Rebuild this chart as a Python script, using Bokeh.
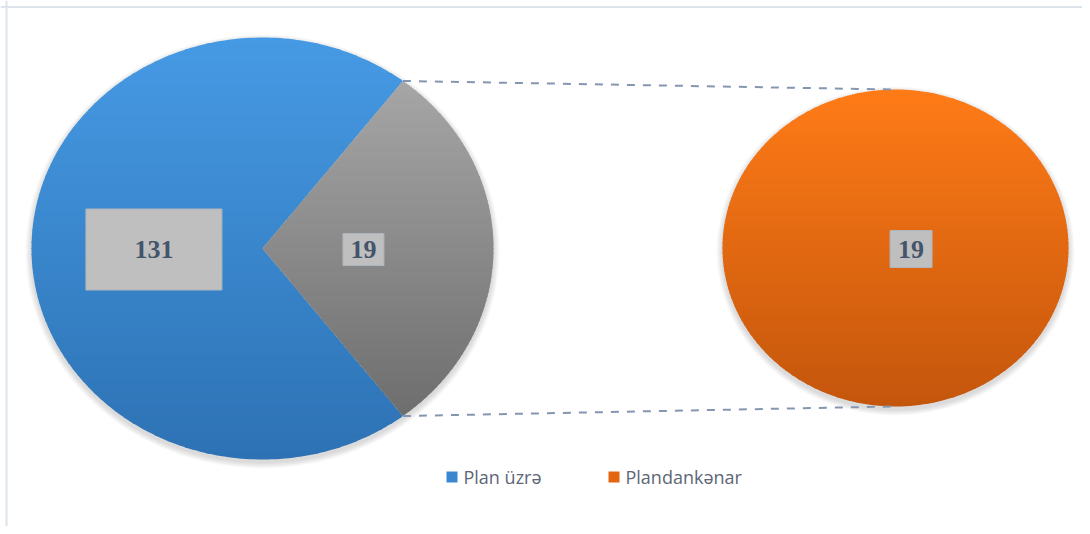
import numpy as np
from bokeh.plotting import figure
from bokeh.models import Range1d, Span
from bokeh.core.properties import value
from bokeh.embed import file_html
from bokeh.resources import INLINE

# ---------------- data ----------------
categories = ["Plan üzrə", "Plandankənar"]
main_values = [131, 19]          # labels shown on the primary pie
secondary_values = [19]          # label shown on the secondary pie
main_share_pct = [70.8, 29.2]    # angular shares of the primary pie as drawn
secondary_share_pct = [100.0]

# ---------------- styles / layout ----------------
W, H = 1082, 526
main_geom = dict(cx=262, cy=248, rx=231, ry=211)
sec_geom = dict(cx=895, cy=247.5, rx=173, ry=158.5)
blue_grad = ("#469ae4", "#2d72b4")
gray_grad = ("#a6a6a6", "#6e6e6e")
orange_grad = ("#ff7b17", "#c4560c")
label_color = "#44546a"
box_fill = "#bfbfbf"
box_line = "#aeb4bc"
main_box_sizes = [(136, 81), (41, 32)]
sec_box_sizes = [(42, 37)]
main_label_frac = [0.47, 0.437]
sec_label_frac = [0.09]
legend_x = [446, 608]
legend_y = 476.5
legend_colors = ["#3a86cf", "#e2650f"]
connector_color = "#8597b0"

p = figure(width=W, height=H, output_backend="svg", toolbar_location=None,
           x_range=Range1d(0, W), y_range=Range1d(H, 0),
           x_axis_type=None, y_axis_type=None, min_border=0,
           background_fill_color="white", border_fill_color="white")
p.outline_line_color = None
p.grid.visible = False

# chart area border (left / top visible)
p.add_layout(Span(location=6, dimension="height", line_color="#dde3ea", line_width=2))
p.add_layout(Span(location=6.5, dimension="width", line_color="#dde3ea", line_width=2))


def hex2rgb(h):
    h = h.lstrip("#")
    return np.array([int(h[i:i + 2], 16) for i in (0, 2, 4)], dtype=float)


def lerp_color(c0, c1, t):
    a, b = hex2rgb(c0), hex2rgb(c1)
    c = a + (b - a) * t
    return "#%02x%02x%02x" % tuple(int(round(v)) for v in c)


def wedge_points(g, a0, a1, full=False, n=240):
    t = np.radians(np.linspace(a0, a1, n))
    xs = g["cx"] + g["rx"] * np.cos(t)
    ys = g["cy"] - g["ry"] * np.sin(t)
    pts = list(zip(xs, ys))
    if not full:
        pts = [(g["cx"], g["cy"])] + pts
    return pts


def clip_half(pts, yc, keep_ge):
    out = []
    n = len(pts)
    for i in range(n):
        cur, prev = pts[i], pts[i - 1]
        cin = cur[1] >= yc if keep_ge else cur[1] <= yc
        pin = prev[1] >= yc if keep_ge else prev[1] <= yc
        if cin != pin:
            t = (yc - prev[1]) / (cur[1] - prev[1])
            out.append((prev[0] + t * (cur[0] - prev[0]), yc))
        if cin:
            out.append(cur)
    return out


def gradient_patch(pts, c_top, c_bot, nb=70):
    ys = [q[1] for q in pts]
    y0, y1 = min(ys), max(ys)
    edges = np.linspace(y0, y1, nb + 1)
    bx, by, bc = [], [], []
    for i in range(nb):
        poly = clip_half(pts, edges[i] - 0.6, True)
        poly = clip_half(poly, edges[i + 1] + 0.6, False) if poly else poly
        if len(poly) < 3:
            continue
        bx.append([q[0] for q in poly])
        by.append([q[1] for q in poly])
        bc.append(lerp_color(c_top, c_bot, (i + 0.5) / nb))
    p.patches(bx, by, fill_color=bc, line_color=None)


# soft shadows
for g in (main_geom, sec_geom):
    for k in range(1, 7):
        p.ellipse(x=[g["cx"]], y=[g["cy"] + 3], width=[2 * (g["rx"] + k)],
                  height=[2 * (g["ry"] + k)], fill_color="black", fill_alpha=0.025,
                  line_color=None)

# ---------------- primary pie ----------------
other_span = main_share_pct[1] / 100 * 360
start_other = -other_span / 2
main_angles = [(start_other + other_span, start_other + 360), (start_other, start_other + other_span)]
main_grads = [blue_grad, gray_grad]
for (a0, a1), gr in zip(main_angles, main_grads):
    gradient_patch(wedge_points(main_geom, a0, a1), gr[0], gr[1])

# ---------------- secondary pie ----------------
sec_angles = []
acc = -180.0
for s in secondary_share_pct:
    sec_angles.append((acc, acc + s / 100 * 360))
    acc += s / 100 * 360
for a0, a1 in sec_angles:
    gradient_patch(wedge_points(sec_geom, a0, a1, full=True), orange_grad[0], orange_grad[1])

# ---------------- connector lines ----------------
ta = np.radians(start_other + other_span)
ba = np.radians(start_other)
g = main_geom
top_pt = (g["cx"] + g["rx"] * np.cos(ta), g["cy"] - g["ry"] * np.sin(ta))
bot_pt = (g["cx"] + g["rx"] * np.cos(ba), g["cy"] - g["ry"] * np.sin(ba))
s = sec_geom
p.line([top_pt[0], s["cx"] - 4], [top_pt[1], s["cy"] - s["ry"]], line_color=connector_color,
       line_width=2, line_dash="8 8")
p.line([bot_pt[0], s["cx"] - 4], [bot_pt[1], s["cy"] + s["ry"]], line_color=connector_color,
       line_width=2, line_dash="8 8")

# ---------------- data labels ----------------
def add_labels(geom, angles, vals, sizes, fracs):
    xs, ys, ws, hs, txt = [], [], [], [], []
    for (a0, a1), v, (bw, bh), frac in zip(angles, vals, sizes, fracs):
        m = np.radians((a0 + a1) / 2)
        xs.append(geom["cx"] + frac * geom["rx"] * np.cos(m))
        ys.append(geom["cy"] - frac * geom["ry"] * np.sin(m) + 1)
        ws.append(bw)
        hs.append(bh)
        txt.append(str(v))
    p.rect(x=xs, y=ys, width=ws, height=hs, fill_color=box_fill, line_color=box_line,
           line_width=1)
    p.text(x=xs, y=ys, text=txt, text_font=value("Liberation Serif"), text_font_style="bold",
           text_font_size="26px", text_color=label_color, text_align="center",
           text_baseline="middle")


add_labels(main_geom, main_angles, main_values, main_box_sizes, main_label_frac)
add_labels(sec_geom, sec_angles, secondary_values, sec_box_sizes, sec_label_frac)

# ---------------- legend ----------------
p.rect(x=[lx + 5.5 for lx in legend_x], y=[legend_y] * 2, width=11, height=11,
       fill_color=legend_colors, line_color=None)
p.text(x=[lx + 17 for lx in legend_x], y=[legend_y] * 2, text=categories,
       text_font=value("Open Sans"), text_font_size="18px", text_color="#5d6677",
       text_align="left", text_baseline="middle")

open("out.html", "w").write(file_html(p, INLINE))
